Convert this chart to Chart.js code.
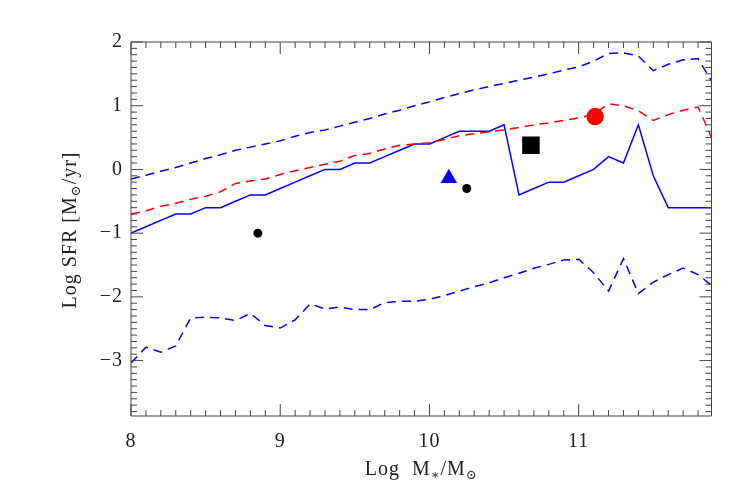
<!DOCTYPE html>
<html><head><meta charset="utf-8">
<script src="https://cdn.jsdelivr.net/npm/chart.js@4.4.1/dist/chart.umd.min.js"></script>
<style>html,body{margin:0;padding:0;background:#fff;}#wrap{width:750px;height:500px;}</style>
</head><body><div id="wrap"><canvas id="c" width="750" height="500"></canvas></div>
<script>
// ---- data ----
const logMass = [8.0,8.1,8.2,8.3,8.4,8.5,8.6,8.7,8.8,8.9,9.0,9.1,9.2,9.3,9.4,9.5,9.6,9.7,9.8,9.9,
                 10.0,10.1,10.2,10.3,10.4,10.5,10.6,10.7,10.8,10.9,11.0,11.1,11.2,11.3,11.4,11.5,11.6,11.7,11.8,11.9];
const sfrUpper  = [-0.15,-0.09,-0.03,0.03,0.10,0.17,0.23,0.30,0.35,0.40,0.45,0.52,0.58,0.62,0.68,0.74,0.80,0.87,0.93,1.00,
                   1.06,1.13,1.19,1.25,1.30,1.35,1.40,1.45,1.50,1.56,1.61,1.70,1.82,1.83,1.78,1.55,1.65,1.72,1.74,1.35];
const sfrMedian = [-0.70,-0.65,-0.58,-0.53,-0.47,-0.42,-0.35,-0.22,-0.18,-0.15,-0.08,-0.02,0.03,0.08,0.13,0.22,0.25,0.32,0.38,0.40,
                   0.42,0.47,0.53,0.56,0.59,0.62,0.66,0.70,0.73,0.77,0.81,0.86,1.03,1.00,0.92,0.77,0.86,0.93,0.98,0.45];
const sfrSolid  = [-1.0,-0.9,-0.8,-0.7,-0.7,-0.6,-0.6,-0.5,-0.4,-0.4,-0.3,-0.2,-0.1,0.0,0.0,0.1,0.1,0.2,0.3,0.4,
                   0.4,0.5,0.6,0.6,0.6,0.7,-0.4,-0.3,-0.2,-0.2,-0.1,0.0,0.2,0.1,0.7,-0.1,-0.6,-0.6,-0.6,-0.6];
const sfrLower  = [-3.04,-2.79,-2.87,-2.77,-2.33,-2.32,-2.33,-2.37,-2.26,-2.45,-2.49,-2.36,-2.11,-2.19,-2.16,-2.20,-2.20,-2.09,-2.07,-2.07,
                   -2.04,-1.98,-1.91,-1.84,-1.78,-1.70,-1.63,-1.55,-1.49,-1.42,-1.41,-1.62,-1.91,-1.40,-1.95,-1.77,-1.65,-1.55,-1.65,-1.84];
const dotX = [8.85, 10.25], dotY = [-1.0, -0.30];
const triX = [10.13], triY = [-0.14];
const sqX = [10.68], sqY = [0.38];
const redX = [11.11], redY = [0.83];
const xTicks = [8, 9, 10, 11];
const yTicks = [-3, -2, -1, 0, 1, 2];
const xRange = [8, 11.89], yRange = [-3.87, 2];

const pts = (xs, ys) => xs.map((x, i) => ({x: x, y: ys[i]}));
const FONT = '"Liberation Serif", "DejaVu Serif", serif';
const INK = '#222';

const lineDs = (ys, color, dash) => ({
  data: pts(logMass, ys), showLine: true, borderColor: color, borderWidth: 1.5,
  borderDash: dash, pointRadius: 0, fill: false, tension: 0
});
const markDs = (xs, ys, color, style, r) => ({
  data: pts(xs, ys), showLine: false, pointStyle: style, pointRadius: r,
  backgroundColor: color, borderColor: color, borderWidth: 0
});

const framePlugin = {
  id: 'frame',
  beforeDraw(chart) { chart.ctx.letterSpacing = '1px'; },
  afterDatasetsDraw(chart) {
    const ctx = chart.ctx, a = chart.chartArea;
    const xs = chart.scales.x, ys = chart.scales.y;
    ctx.save();
    ctx.strokeStyle = '#444';
    ctx.lineWidth = 1;
    ctx.setLineDash([]);
    ctx.beginPath();
    ctx.rect(a.left, a.top, a.right - a.left, a.bottom - a.top);
    ctx.stroke();
    ctx.beginPath();
    for (let i = 80; i <= 119; i++) {
      const v = i / 10, px = xs.getPixelForValue(v);
      if (px < a.left - 0.5 || px > a.right + 0.5) continue;
      const L = (i % 10 === 0) ? 12 : 6;
      ctx.moveTo(px, a.bottom); ctx.lineTo(px, a.bottom - L);
      ctx.moveTo(px, a.top); ctx.lineTo(px, a.top + L);
    }
    for (let i = -39; i <= 20; i++) {
      const v = i / 10, py = ys.getPixelForValue(v);
      if (py < a.top - 0.5 || py > a.bottom + 0.5) continue;
      const L = (i % 10 === 0) ? 12 : 6;
      ctx.moveTo(a.left, py); ctx.lineTo(a.left + L, py);
      ctx.moveTo(a.right, py); ctx.lineTo(a.right - L, py);
    }
    ctx.stroke();
    ctx.restore();
  },
  afterDraw(chart) {
    const ctx = chart.ctx, a = chart.chartArea;
    const big = '20px ' + FONT, small = '13px ' + FONT;
    const drawParts = (parts, cx, cy) => {
      let w = 0;
      parts.forEach(p => { ctx.font = p[1] ? small : big; w += ctx.measureText(p[0]).width; });
      let x = cx - w / 2;
      parts.forEach(p => {
        ctx.font = p[1] ? small : big;
        ctx.fillText(p[0], x, cy + (p[1] ? 4 : 0));
        x += ctx.measureText(p[0]).width;
      });
    };
    ctx.save();
    ctx.letterSpacing = '1px';
    ctx.fillStyle = INK;
    ctx.textBaseline = 'alphabetic';
    ctx.textAlign = 'left';
    drawParts([['Log  M', 0], ['\u2217', 1], ['/M', 0], ['\u2299', 1]], (a.left + a.right) / 2, 475);
    ctx.translate(76, 230);
    ctx.rotate(-Math.PI / 2);
    drawParts([['Log SFR [M', 0], ['\u2299', 1], ['/yr]', 0]], 0, 0);
    ctx.restore();
  }
};

new Chart(document.getElementById('c'), {
  type: 'scatter',
  data: {
    datasets: [
      lineDs(sfrUpper, '#0000ff', [9, 6]),
      lineDs(sfrMedian, '#ff0000', [9, 6]),
      lineDs(sfrSolid, '#0000ff', []),
      lineDs(sfrLower, '#0000ff', [9, 6]),
      markDs(dotX, dotY, '#000000', 'circle', 4.5),
      markDs(triX, triY, '#0000ff', 'triangle', 9.5),
      markDs(sqX, sqY, '#000000', 'rect', 12.4),
      markDs(redX, redY, '#ff0000', 'circle', 8.7)
    ]
  },
  options: {
    responsive: false, animation: false, devicePixelRatio: 1,
    layout: {padding: {left: 0, top: 42, right: 38.5, bottom: 0}},
    plugins: {legend: {display: false}, tooltip: {enabled: false}},
    scales: {
      x: {
        type: 'linear', min: xRange[0], max: xRange[1],
        grid: {display: false, drawTicks: false}, border: {display: false},
        afterBuildTicks: s => { s.ticks = xTicks.map(v => ({value: v})); },
        afterFit: s => { s.height = 84; },
        ticks: {font: {family: FONT, size: 20}, color: INK, padding: 14, autoSkip: false, maxRotation: 0,
                callback: v => String(v).replace('-', '\u2212')}
      },
      y: {
        type: 'linear', min: yRange[0], max: yRange[1],
        grid: {display: false, drawTicks: false}, border: {display: false},
        afterBuildTicks: s => { s.ticks = yTicks.map(v => ({value: v})); },
        afterFit: s => { s.width = 131; },
        ticks: {font: {family: FONT, size: 20}, color: INK, padding: 8, autoSkip: false,
                callback: v => String(v).replace('-', '\u2212')}
      }
    }
  },
  plugins: [framePlugin]
});
</script></body></html>
